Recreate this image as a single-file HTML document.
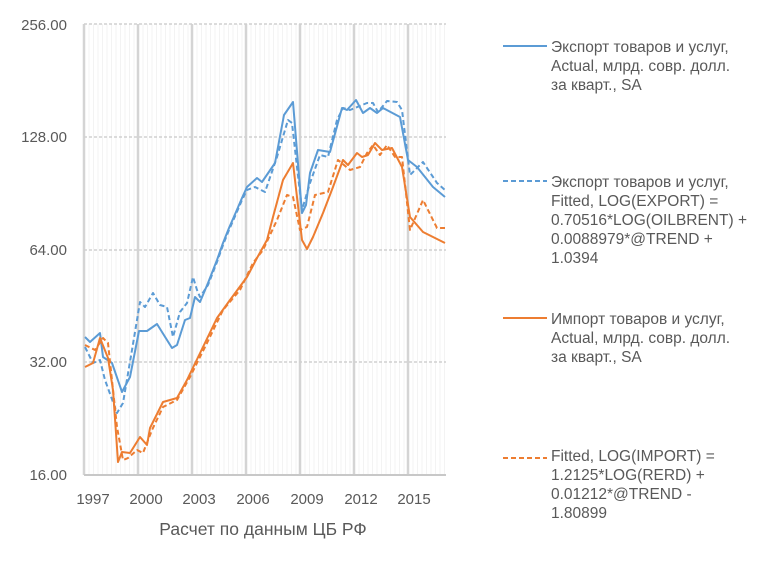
<!DOCTYPE html>
<html><head><meta charset="utf-8"><style>
body{margin:0;background:#fff;}
svg{display:block;font-family:"Liberation Sans",sans-serif;}
</style></head><body>
<svg width="757" height="570" viewBox="0 0 757 570" xmlns="http://www.w3.org/2000/svg">
<defs>
<pattern id="mg" x="84" y="0" width="4.5" height="10" patternUnits="userSpaceOnUse">
<rect x="0" y="0" width="1" height="10" fill="#f3f3f3"/>
</pattern>
</defs>
<rect width="757" height="570" fill="#fff"/>
<rect x="84" y="24" width="362" height="451" fill="url(#mg)"/>
<g stroke="#d4d4d4" stroke-width="2.5">
<line x1="84" y1="24" x2="84" y2="475"/><line x1="138" y1="24" x2="138" y2="475"/><line x1="192" y1="24" x2="192" y2="475"/><line x1="246" y1="24" x2="246" y2="475"/><line x1="300" y1="24" x2="300" y2="475"/><line x1="354" y1="24" x2="354" y2="475"/><line x1="408" y1="24" x2="408" y2="475"/>
</g>
<g stroke="#d0d0d0" stroke-width="1.5" stroke-dasharray="3,2">
<line x1="84" y1="24" x2="446" y2="24"/><line x1="84" y1="137" x2="446" y2="137"/><line x1="84" y1="250" x2="446" y2="250"/><line x1="84" y1="362" x2="446" y2="362"/>
</g>
<line x1="84" y1="475" x2="446" y2="475" stroke="#c8c8c8" stroke-width="2"/>
<g fill="none" stroke-width="2" stroke-linejoin="round">
<polyline stroke="#5b9bd5" points="85,337 90,342 100,333 103,357 112,363 122,392 130,377 139,331 147,331 157,324 172,348 177,345 185,320 190,318 195,297 200,302 208,283 217,260 223,243 229,228 236,212 242,198 247,187 257,178 262,182 275,163 284,115 293,102 302,213 306,205 310,173 318,150 330,152 342,108 347,110 356,100 363,113 370,108 377,113 383,108 400,117 408,160 417,167 433,187 445,197"/>
<polyline stroke="#5b9bd5" stroke-dasharray="5,3" points="85,347 93,363 100,360 105,380 117,413 123,403 132,350 140,302 145,307 153,293 160,305 167,307 173,337 180,312 187,303 193,277 197,290 200,297 208,285 217,262 223,245 229,230 236,214 242,200 247,190 255,187 265,192 277,157 288,120 292,123 297,167 302,210 310,183 320,155 328,157 337,120 343,108 350,110 367,103 373,103 378,112 387,101 397,102 402,110 410,175 423,162 437,183 445,190"/>
<polyline stroke="#ed7d31" points="85,367 93,363 100,338 108,358 113,390 118,462 122,452 130,453 140,437 147,445 150,428 163,402 177,398 187,380 203,347 217,318 230,300 247,277 257,258 267,240 273,217 283,180 293,163 302,240 307,249 313,237 323,213 333,187 343,160 348,165 357,153 362,157 368,155 375,143 382,150 392,148 402,167 410,217 423,232 445,243"/>
<polyline stroke="#ed7d31" stroke-dasharray="5,3" points="85,345 95,350 103,338 108,343 117,427 123,460 128,458 137,450 143,453 152,430 163,407 177,400 190,377 207,343 223,310 240,290 253,263 263,250 277,220 287,195 293,197 300,230 307,227 315,195 328,192 338,160 350,170 360,167 367,153 373,145 380,155 387,145 395,157 402,157 410,230 423,200 437,228 445,228"/>
</g>
<g fill="#595959" font-size="15" text-anchor="end">
<text x="67" y="30">256.00</text><text x="67" y="142">128.00</text><text x="67" y="255">64.00</text><text x="67" y="367">32.00</text><text x="67" y="480">16.00</text>
</g>
<g fill="#595959" font-size="15" text-anchor="middle">
<text x="93" y="504">1997</text><text x="146" y="504">2000</text><text x="199" y="504">2003</text><text x="253" y="504">2006</text><text x="307" y="504">2009</text><text x="361" y="504">2012</text><text x="414" y="504">2015</text>
<text x="263" y="535" font-size="17.5">Расчет по данным ЦБ РФ</text>
</g>
<g stroke-width="2">
<line x1="503" y1="46" x2="547" y2="46" stroke="#5b9bd5"/>
<line x1="503" y1="181" x2="547" y2="181" stroke="#5b9bd5" stroke-dasharray="5,3"/>
<line x1="503" y1="318" x2="547" y2="318" stroke="#ed7d31"/>
<line x1="503" y1="458" x2="547" y2="458" stroke="#ed7d31" stroke-dasharray="5,3"/>
</g>
<g fill="#595959" font-size="15.5">
<text x="551" y="52">Экспорт товаров и услуг,</text><text x="551" y="71">Actual, млрд. совр. долл.</text><text x="551" y="90">за кварт., SA</text>
<text x="551" y="187">Экспорт товаров и услуг,</text><text x="551" y="206">Fitted, LOG(EXPORT) =</text><text x="551" y="225">0.70516*LOG(OILBRENT) +</text><text x="551" y="244">0.0088979*@TREND +</text><text x="551" y="263">1.0394</text>
<text x="551" y="324">Импорт товаров и услуг,</text><text x="551" y="343">Actual, млрд. совр. долл.</text><text x="551" y="362">за кварт., SA</text>
<text x="551" y="461">Fitted, LOG(IMPORT) =</text><text x="551" y="480">1.2125*LOG(RERD) +</text><text x="551" y="499">0.01212*@TREND -</text><text x="551" y="518">1.80899</text>
</g>
</svg>
</body></html>
